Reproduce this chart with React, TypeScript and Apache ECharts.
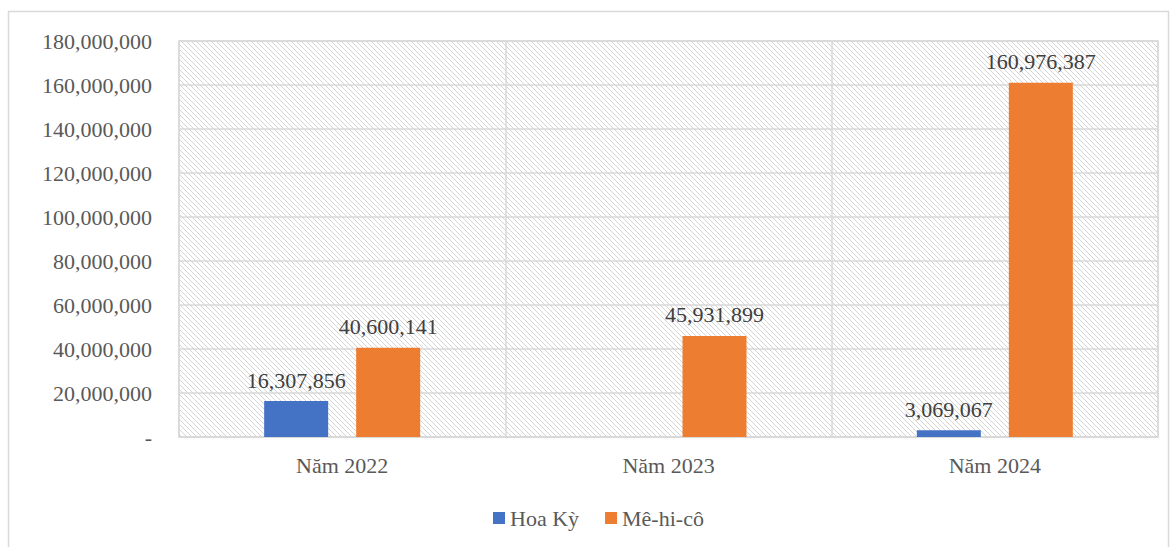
import React, { useEffect, useRef } from "react";
import * as echarts from "echarts";

const categories = ["Năm 2022", "Năm 2023", "Năm 2024"];
const seriesNames = ["Hoa Kỳ", "Mê-hi-cô"];
const hoaKy: (number | null)[] = [16307856, null, 3069067];
const mexico: number[] = [40600141, 45931899, 160976387];
const yMin = 0;
const yMax = 180000000;
const yInterval = 20000000;

const tile =
  "data:image/svg+xml;charset=utf-8," +
  encodeURIComponent(
    '<svg xmlns="http://www.w3.org/2000/svg" width="5" height="5">' +
      '<rect width="5" height="5" fill="#ffffff"/>' +
      '<path d="M-1,-1 L6,6 M-1,4 L1,6 M4,-1 L6,1" stroke="#d4d4d4" stroke-width="1"/>' +
      "</svg>"
  );

const fmt = (v: number) => v.toLocaleString("en-US");
const serif = "'Liberation Serif', 'Times New Roman', serif";
const FS = 22;

export default function App() {
  const ref = useRef<HTMLDivElement>(null);
  useEffect(() => {
    document.body.style.margin = "0";
    const chart = echarts.init(ref.current!, null, { renderer: "svg" });
    chart.setOption({
      animation: false,
      backgroundColor: "#ffffff",
      textStyle: { fontFamily: serif },
      graphic: [
        {
          type: "rect",
          shape: { x: 8.5, y: 11.5, width: 1160, height: 560 },
          style: { fill: "none", stroke: "#d9d9d9", lineWidth: 1.5 },
          z: -10,
        },
      ],
      grid: {
        left: 179,
        right: 18,
        top: 41,
        bottom: 110,
        show: true,
        backgroundColor: { image: tile, repeat: "repeat", imageWidth: 5, imageHeight: 5 },
        borderColor: "#d9d9d9",
        borderWidth: 1.5,
      },
      legend: {
        bottom: 18,
        left: 493,
        icon: "rect",
        itemWidth: 12,
        itemHeight: 12,
        itemGap: 26,
        padding: 0,
        textStyle: { fontFamily: serif, fontSize: FS, color: "#595959" },
        data: seriesNames,
      },
      xAxis: {
        type: "category",
        data: categories,
        axisTick: { show: false },
        axisLine: { lineStyle: { color: "#d9d9d9", width: 1.5 } },
        splitLine: { show: true, lineStyle: { color: "#d9d9d9", width: 1.5 } },
        axisLabel: { fontFamily: serif, fontSize: FS, color: "#595959", margin: 17 },
      },
      yAxis: {
        type: "value",
        min: yMin,
        max: yMax,
        interval: yInterval,
        axisLine: { show: false },
        axisTick: { show: false },
        splitLine: { lineStyle: { color: "#d9d9d9", width: 1.5 } },
        axisLabel: {
          fontFamily: serif,
          fontSize: FS,
          color: "#595959",
          margin: 27,
          formatter: (v: number) => (v === 0 ? "-" : fmt(v)),
        },
      },
      series: [
        {
          name: seriesNames[0],
          type: "bar",
          data: hoaKy,
          barWidth: 64,
          barGap: "43.75%",
          itemStyle: { color: "#4472C4" },
          label: {
            show: true,
            position: "top",
            distance: 10,
            fontFamily: serif,
            fontSize: FS,
            color: "#404040",
            formatter: (p: any) => (p.value == null ? "" : fmt(p.value)),
          },
        },
        {
          name: seriesNames[1],
          type: "bar",
          data: mexico,
          barWidth: 64,
          barGap: "43.75%",
          itemStyle: { color: "#ED7D31" },
          label: {
            show: true,
            position: "top",
            distance: 10,
            fontFamily: serif,
            fontSize: FS,
            color: "#404040",
            formatter: (p: any) => fmt(p.value),
          },
        },
      ],
    });
    return () => chart.dispose();
  }, []);
  return <div ref={ref} style={{ width: 1176, height: 547 }} />;
}
